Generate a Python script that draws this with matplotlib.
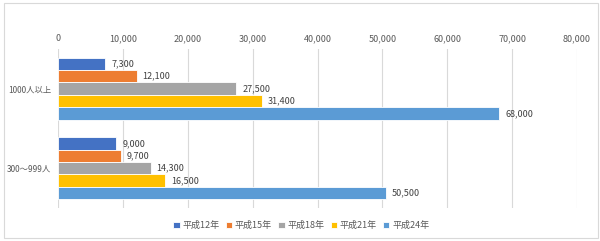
import numpy as np
import matplotlib.pyplot as plt
from matplotlib.patches import Rectangle
from matplotlib.ticker import FuncFormatter

plt.rcParams['font.family'] = ['Noto Sans CJK JP', 'DejaVu Sans']

categories = ["1000人以上", "300〜999人"]
series = ["平成12年", "平成15年", "平成18年", "平成21年", "平成24年"]
values = [
    [7300, 9000],
    [12100, 9700],
    [27500, 14300],
    [31400, 16500],
    [68000, 50500],
]
colors = ["#4472C4", "#ED7D31", "#A5A5A5", "#FFC000", "#5B9BD5"]

fig = plt.figure(figsize=(6.0, 2.41), dpi=100)
fig.patches.append(Rectangle((0.007, 0.012), 0.989, 0.975, transform=fig.transFigure,
                             fill=False, edgecolor="#D9D9D9", linewidth=0.8))
ax = fig.add_axes([0.0967, 0.137, 0.865, 0.66])

y = np.arange(len(categories))
h = 0.156
for i, (name, vals, c) in enumerate(zip(series, values, colors)):
    pos = y - 2 * h + i * h
    bars = ax.barh(pos, vals, height=h, color=c, edgecolor="white", linewidth=0.6,
                   label=name, zorder=3)
    for b, v in zip(bars, vals):
        ax.text(v + 900, b.get_y() + h / 2, f"{v:,}", va="center", ha="left",
                fontsize=6.5, color="#404040")

ax.set_xlim(0, 80000)
ax.set_ylim(1.5, -0.5)
ax.set_xticks(np.arange(0, 80001, 10000))
ax.xaxis.set_major_formatter(FuncFormatter(lambda v, p: f"{int(v):,}"))
ax.xaxis.tick_top()
ax.set_yticks(y)
ax.set_yticklabels(categories, fontsize=6)
ax.tick_params(axis="both", length=0, labelcolor="#595959")
ax.tick_params(axis="x", pad=4, labelsize=6.5)
ax.tick_params(axis="y", pad=5)
ax.grid(axis="x", color="#D9D9D9", linewidth=0.8, zorder=0)
for s in ax.spines.values():
    s.set_visible(False)

fig.legend(loc="center", bbox_to_anchor=(0.502, 0.065), ncol=5, frameon=False,
           fontsize=6.5, handlelength=0.7, handleheight=0.7, handletextpad=0.3,
           columnspacing=0.7, labelcolor="#595959")

fig.savefig("out.png", dpi=100)
